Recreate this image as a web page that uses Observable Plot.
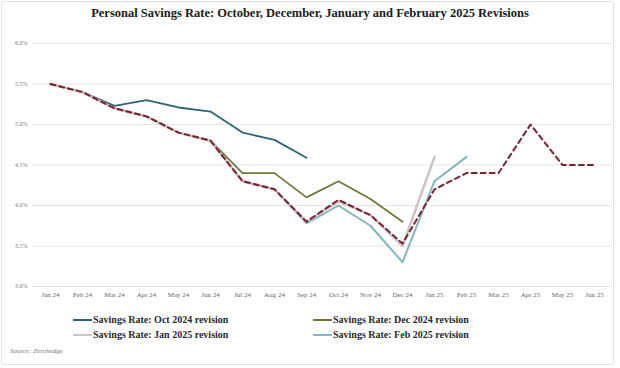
<!DOCTYPE html>
<html>
<head>
<meta charset="utf-8">
<script src="https://cdn.jsdelivr.net/npm/d3@7"></script>
<script src="https://cdn.jsdelivr.net/npm/@observablehq/plot@0.6"></script>
<style>
  html, body { margin: 0; padding: 0; background: #fff; }
  #wrap { position: relative; width: 620px; height: 368px; overflow: hidden; font-family: "Liberation Serif", "DejaVu Serif", serif; }
  #frame { position: absolute; left: 1px; top: 1px; width: 613px; height: 364px; border: 1px solid #e2e2e2; border-radius: 2px; box-sizing: border-box; }
  #title { position: absolute; left: 0; top: 6px; width: 620px; text-align: center; font-weight: bold; font-size: 12.5px; color: #1a1a1a; }
  #chart { position: absolute; left: 0; top: 30px; }
  .leg { position: absolute; font-size: 10px; font-weight: bold; color: #2a2a2a; line-height: 12px; white-space: nowrap; }
  .sw { display: inline-block; width: 19px; height: 2px; vertical-align: middle; margin-right: 1px; position: relative; top: -1px; }
  #source { position: absolute; left: 10px; top: 347px; font-size: 7px; font-style: italic; color: #777; }
</style>
</head>
<body>
<div id="wrap">
  <div id="frame"></div>
  <div id="title">Personal Savings Rate: October, December, January and February 2025 Revisions</div>
  <div id="chart"></div>
  <div id="legend"></div>
  <div id="source">Source: Zerohedge</div>
</div>
<script>
const months = ["Jan 24","Feb 24","Mar 24","Apr 24","May 24","Jun 24","Jul 24","Aug 24","Sep 24","Oct 24","Nov 24","Dec 24","Jan 25","Feb 25","Mar 25","Apr 25","May 25","Jun 25"];
const yTicks = [3.0, 3.5, 4.0, 4.5, 5.0, 5.5, 6.0];

const oct24 = [5.5, 5.4, 5.23, 5.3, 5.21, 5.16, 4.9, 4.81, 4.59];
const dec24 = [5.5, 5.4, 5.2, 5.1, 4.9, 4.8, 4.4, 4.4, 4.1, 4.3, 4.08, 3.8];
const jan25 = [5.5, 5.4, 5.2, 5.1, 4.9, 4.8, 4.3, 4.2, 3.8, 4.05, 3.88, 3.5, 4.6];
const feb25 = [5.5, 5.4, 5.2, 5.1, 4.9, 4.8, 4.3, 4.2, 3.78, 4.0, 3.75, 3.3, 4.3, 4.6];
const dashed = [5.5, 5.4, 5.2, 5.1, 4.9, 4.8, 4.3, 4.2, 3.8, 4.07, 3.88, 3.53, 4.2, 4.4, 4.4, 5.0, 4.5, 4.5];

const seriesNames = ["Savings Rate: Oct 2024 revision", "Savings Rate: Dec 2024 revision", "Savings Rate: Jan 2025 revision", "Savings Rate: Feb 2025 revision"];
const seriesColors = ["#2e6577", "#6e7a3c", "#cdc2c5", "#82b7bb"];

const toRows = arr => arr.map((v, i) => ({month: months[i], value: v}));

const chart = Plot.plot({
  width: 620,
  height: 278,
  marginLeft: 32,
  marginRight: 8,
  marginTop: 13,
  marginBottom: 22,
  style: {fontFamily: "'Liberation Serif', serif", background: "transparent"},
  x: {type: "point", domain: months, padding: 0.5},
  y: {domain: [3, 6]},
  marks: [
    Plot.ruleY(yTicks, {stroke: "#e4e4e4", strokeWidth: 1}),
    Plot.axisX({tickSize: 0, tickPadding: 6, fontSize: 7, fill: "#666", label: null}),
    Plot.axisY({ticks: yTicks, tickSize: 0, tickPadding: 5, fontSize: 6, fill: "#777", label: null, tickFormat: d => d.toFixed(1) + "%"}),
    Plot.line(toRows(oct24), {x: "month", y: "value", stroke: seriesColors[0], strokeWidth: 1.8}),
    Plot.line(toRows(dec24), {x: "month", y: "value", stroke: seriesColors[1], strokeWidth: 1.8}),
    Plot.line(toRows(feb25), {x: "month", y: "value", stroke: seriesColors[3], strokeWidth: 2}),
    Plot.line(toRows(jan25), {x: "month", y: "value", stroke: seriesColors[2], strokeWidth: 2.5}),
    Plot.line(toRows(dashed), {x: "month", y: "value", stroke: "#7a2232", strokeWidth: 2, strokeDasharray: "5,4"})
  ]
});
document.getElementById("chart").appendChild(chart);

const legend = document.getElementById("legend");
const legPos = [[73, 314], [313, 314], [73, 329], [313, 329]];
const legOrder = [0, 1, 2, 3];
legOrder.forEach((k, j) => {
  const d = document.createElement("div");
  d.className = "leg";
  d.style.left = legPos[j][0] + "px";
  d.style.top = legPos[j][1] + "px";
  d.innerHTML = `<span class="sw" style="background:${seriesColors[k]}"></span>${seriesNames[k]}`;
  legend.appendChild(d);
});
</script>
</body>
</html>
